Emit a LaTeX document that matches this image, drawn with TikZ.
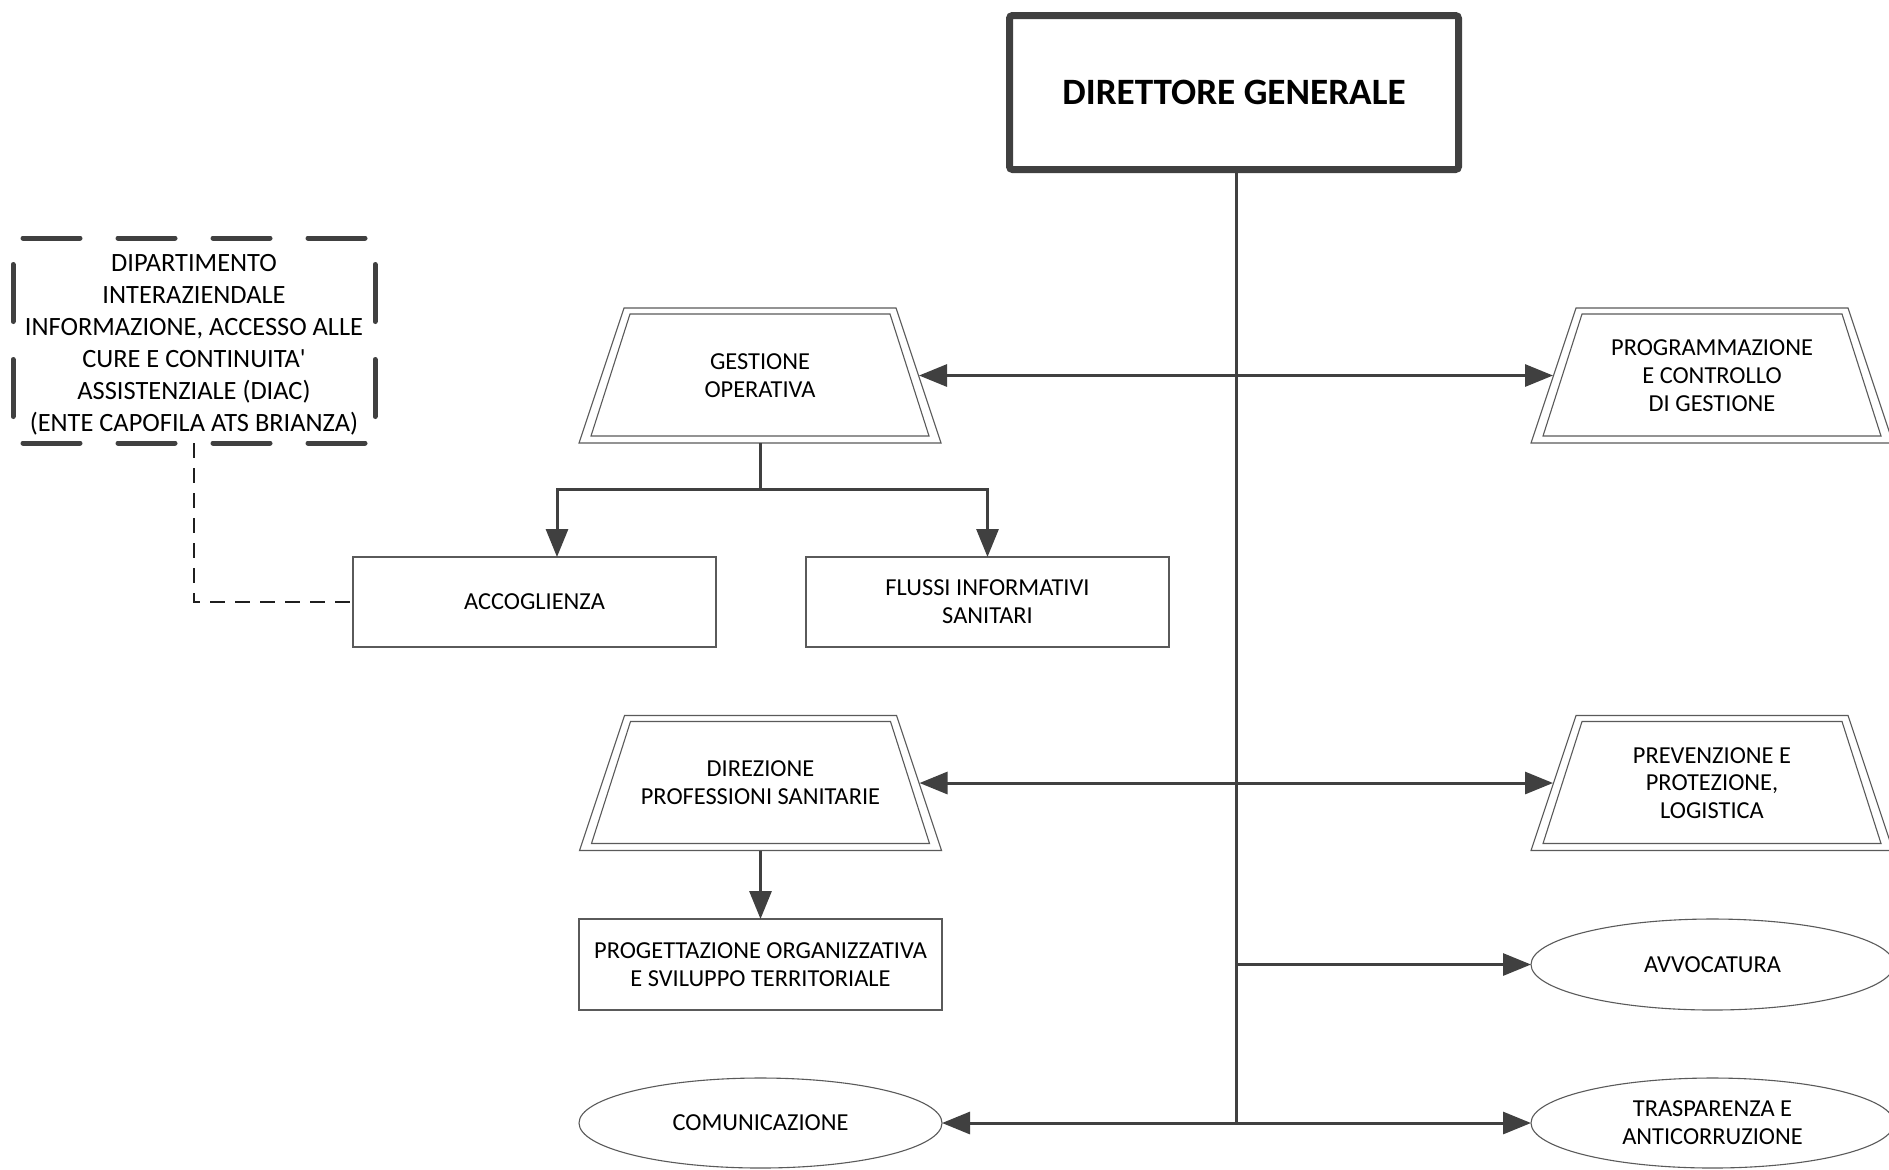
\documentclass[tikz,border=0pt]{standalone}
\usepackage{fontspec}
\setmainfont{Carlito}
\usetikzlibrary{arrows.meta,calc,shapes.geometric}
\definecolor{ln}{HTML}{404040}
\definecolor{sh}{HTML}{5A5A5A}
\tikzset{
  base/.style={inner sep=0pt,outer sep=0pt,align=center,font=\fontsize{12.2}{13.9}\selectfont},
  box/.style={base,draw=sh,line width=0.55pt,minimum width=181.5pt,minimum height=45pt},
  oval/.style={base,ellipse,draw=sh,line width=0.55pt,minimum width=181.5pt,minimum height=45.5pt},
  trap/.style={base,minimum width=181pt,minimum height=67.5pt},
  shp/.style={draw=sh,line width=0.55pt},
  conn/.style={draw=ln,line width=1.5pt},
  arr/.style={conn,-{Triangle[length=14pt,width=11pt]}},
  dashconn/.style={draw=black!88,line width=1.3pt,dash pattern=on 7.5pt off 5pt},
  diacside/.style={draw=ln,line width=2.5pt,line cap=round,dash pattern=on 28.5pt off 19pt}
}
\newcommand\dtrap[1]{%
  \draw[shp] (#1.south west) -- (#1.south east) -- ($(#1.north east)+(-45,0)$) -- ($(#1.north west)+(45,0)$) -- cycle;
  \draw[shp] ($(#1.south west)+(12,-7)$) -- ($(#1.south east)+(-12,-7)$) -- ($(#1.north east)+(-51,6)$) -- ($(#1.north west)+(51,6)$) -- cycle;}
\begin{document}
\begin{tikzpicture}[x=0.5pt,y=-0.5pt]
\useasboundingbox[fill=white] (0,0) rectangle (1889,1169);

% director
\node[base,draw=ln,line width=3.5pt,rounded corners=1.5pt,minimum width=224.5pt,minimum height=77pt,font=\fontsize{18.6}{20}\selectfont\bfseries] (dg) at (1234,92.5) {DIRETTORE GENERALE};

% trapezoids
\node[trap] (gest) at (760,375.5) {GESTIONE\\OPERATIVA};
\node[trap] (pcg) at (1712,375.5) {PROGRAMMAZIONE\\E CONTROLLO\\DI GESTIONE};
\node[trap] (dir) at (760.5,783) {DIREZIONE\\PROFESSIONI SANITARIE};
\node[trap] (prev) at (1712,783) {PREVENZIONE E\\PROTEZIONE,\\LOGISTICA};
\dtrap{gest}\dtrap{pcg}\dtrap{dir}\dtrap{prev}

% boxes
\node[box] (acc) at (534.5,602) {ACCOGLIENZA};
\node[box] (flu) at (987.5,602) {FLUSSI INFORMATIVI\\SANITARI};
\node[box,minimum height=45.5pt] (prog) at (760.5,964.5) {PROGETTAZIONE ORGANIZZATIVA\\E SVILUPPO TERRITORIALE};

% ovals
\node[oval] (avv) at (1712.5,964.5) {AVVOCATURA};
\node[oval,minimum height=45pt] (tra) at (1712.5,1123) {TRASPARENZA E\\ANTICORRUZIONE};
\node[oval,minimum height=45pt] (com) at (760.5,1123) {COMUNICAZIONE};

% DIAC
\node[base,minimum width=181pt,minimum height=102.5pt] (diac) at (194,340.5) {};
\node[base,font=\fontsize{13.2}{16}\selectfont] (diact) at ($(diac.center)+(0,4)$) {DIPARTIMENTO\\INTERAZIENDALE\\INFORMAZIONE, ACCESSO ALLE\\CURE E CONTINUITA\textquotesingle\\ASSISTENZIALE (DIAC)\\(ENTE CAPOFILA ATS BRIANZA)};
\draw[diacside,dash phase=42.5pt] (diac.north west) -- (diac.north east);
\draw[diacside,dash phase=42.5pt] (diac.south west) -- (diac.south east);
\draw[diacside,dash phase=34.25pt] (diac.north west) -- (diac.south west);
\draw[diacside,dash phase=34.25pt] (diac.north east) -- (diac.south east);

% trunk
\coordinate (v1) at (1236,375.5);
\coordinate (v2) at (1236,783);
\coordinate (v3) at (1238,964.5);
\coordinate (v4) at (1236,1123);
\draw[conn] (dg.south -| v1) -- (v4);
\draw[arr] (v1) -- ($(gest.east)+(-22,0)$);
\draw[arr] (v1) -- ($(pcg.west)+(22,0)$);
\draw[arr] (v2) -- ($(dir.east)+(-22,0)$);
\draw[arr] (v2) -- ($(prev.west)+(22,0)$);
\draw[arr] (v3) -- (avv);
\draw[arr] (v4) -- (tra);
\draw[arr] (v4) -- (com);

% gestione subtree
\coordinate (tj) at ($(gest.south)+(0,46)$);
\draw[conn] (gest.south) -- (tj);
\draw[arr] (tj) -| ($(acc.north)+(22.5,0)$);
\draw[arr] (tj) -| (flu.north);
\draw[arr] (dir.south) -- (prog.north);

% dashed link
\draw[dashconn] (diac.south) |- (acc.west);
\end{tikzpicture}
\end{document}
